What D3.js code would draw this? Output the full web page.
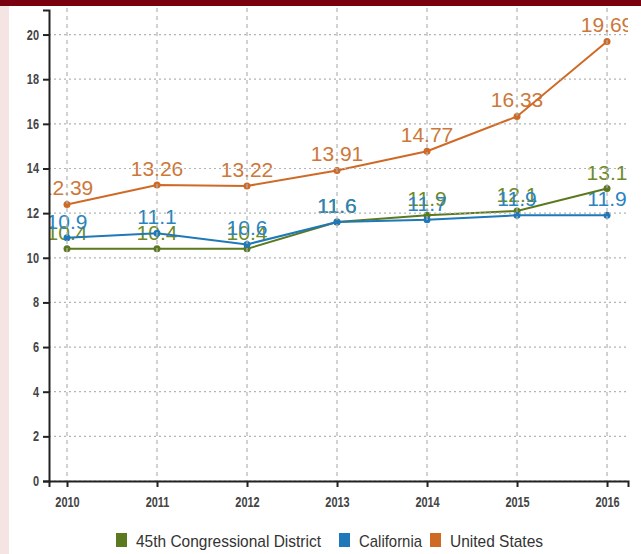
<!DOCTYPE html>
<html>
<head>
<meta charset="utf-8">
<script src="https://cdn.jsdelivr.net/npm/d3@7"></script>
<style>
  body { margin: 0; background: #fff; }
  svg { display: block; }
</style>
</head>
<body>
<svg id="chart" width="641" height="554"></svg>
<script>
var years = [2010, 2011, 2012, 2013, 2014, 2015, 2016];
var district = [10.4, 10.4, 10.4, 11.6, 11.9, 12.1, 13.1];
var california = [10.9, 11.1, 10.6, 11.6, 11.7, 11.9, 11.9];
var usa = [12.39, 13.26, 13.22, 13.91, 14.77, 16.33, 19.69];
var yTicks = [0, 2, 4, 6, 8, 10, 12, 14, 16, 18, 20];

var series = [
    {name: "45th Congressional District", values: district, color: "#5b7a1f", label: "#6f8a28"},
    {name: "California", values: california, color: "#1f78b8", label: "#2a84c0"},
    {name: "United States", values: usa, color: "#cf6a26", label: "#cc783a"}
];

var font = "'Liberation Sans', Arial, sans-serif";

var svg = d3.select("#chart");

// page decoration
svg.append("rect").attr("x", 0).attr("y", 0).attr("width", 9).attr("height", 554).attr("fill", "#f4e4e4");
svg.append("rect").attr("x", 0).attr("y", 0).attr("width", 641).attr("height", 6).attr("fill", "#7a0010");

var x = d3.scaleLinear().domain([2009.8, 2016.233]).range([49, 628]);
var y = d3.scaleLinear().domain([0, 21.1]).range([481, 10]);

svg.append("defs").append("clipPath").attr("id", "plotclip")
    .append("rect").attr("x", 49).attr("y", 6).attr("width", 579).attr("height", 480);

var plot = svg.append("g").attr("clip-path", "url(#plotclip)");

// value labels
series.forEach(function(s){
    plot.append("g").selectAll("text").data(s.values).enter().append("text")
        .attr("x", function(d, i){ return x(years[i]); })
        .attr("y", function(d){ return y(d) - 9; })
        .attr("text-anchor", "middle")
        .attr("font-family", font)
        .attr("font-size", 21)
        .attr("fill", s.label)
        .text(function(d){ return d; });
});

// grid
var grid = svg.append("g");
grid.selectAll("line.h").data(yTicks).enter().append("line")
    .attr("x1", 49).attr("x2", 628)
    .attr("y1", function(d){ return y(d); }).attr("y2", function(d){ return y(d); })
    .attr("stroke", "#b4b4b4").attr("stroke-width", 1.2).attr("stroke-dasharray", "2,3");
grid.selectAll("line.v").data(years).enter().append("line")
    .attr("x1", function(d){ return x(d); }).attr("x2", function(d){ return x(d); })
    .attr("y1", 8).attr("y2", 481)
    .attr("stroke", "#b4b4b4").attr("stroke-width", 1.2).attr("stroke-dasharray", "4,4");

// lines and points
var line = d3.line()
    .x(function(d, i){ return x(years[i]); })
    .y(function(d){ return y(d); });

series.forEach(function(s){
    plot.append("path").datum(s.values)
        .attr("d", line)
        .attr("fill", "none")
        .attr("stroke", s.color)
        .attr("stroke-width", 2);
    plot.append("g").selectAll("circle").data(s.values).enter().append("circle")
        .attr("cx", function(d, i){ return x(years[i]); })
        .attr("cy", function(d){ return y(d); })
        .attr("r", 3.5)
        .attr("fill", s.color);
});

// axes
var xAxis = svg.append("g").attr("transform", "translate(0,481)")
    .call(d3.axisBottom(x).tickValues(years).tickFormat(d3.format("d")).tickSize(6).tickPadding(10));
var yAxis = svg.append("g").attr("transform", "translate(49,0)")
    .call(d3.axisLeft(y).tickValues(yTicks).tickSize(6).tickPadding(4));

[xAxis, yAxis].forEach(function(a){
    a.selectAll("path, line").attr("stroke", "#222").attr("stroke-width", 2);
    a.selectAll("text").attr("font-family", font).attr("font-size", 14)
        .attr("font-weight", "bold").attr("fill", "#444")
        .each(function(){
            // squeeze to look condensed like the original
            var w = this.getComputedTextLength();
            d3.select(this).attr("textLength", w * 0.78).attr("lengthAdjust", "spacingAndGlyphs");
        });
});

// legend
var legend = svg.append("g").attr("transform", "translate(0,541)");
var lx = [116, 339, 430];
var lw = [185, 63, 93];
series.forEach(function(s, i){
    legend.append("rect").attr("x", lx[i]).attr("y", -8).attr("width", 11).attr("height", 14).attr("fill", s.color);
    legend.append("text").attr("x", lx[i] + 20).attr("y", 0)
        .attr("dy", "0.35em")
        .attr("font-family", font).attr("font-size", 17).attr("fill", "#333")
        .attr("textLength", lw[i]).attr("lengthAdjust", "spacingAndGlyphs")
        .text(s.name);
});
</script>
</body>
</html>
